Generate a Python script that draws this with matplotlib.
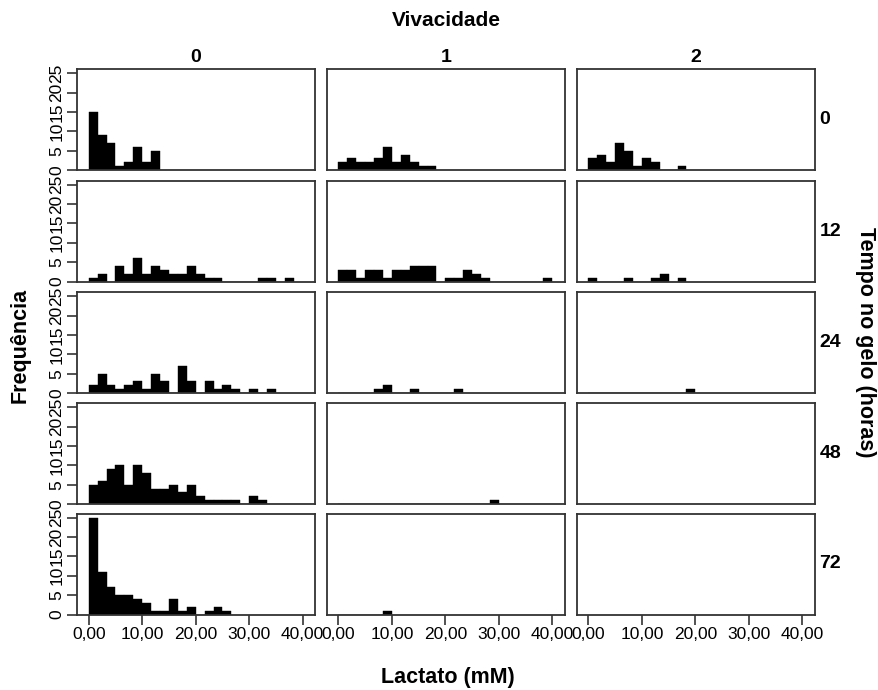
import numpy as np
import matplotlib
matplotlib.use("Agg")
import matplotlib.pyplot as plt

plt.rcParams['font.family'] = ['Liberation Sans', 'DejaVu Sans']

# Lactate histogram counts (bins of 40/24 mM starting at 0), one list per panel
vivacidade = ['0', '1', '2']
tempo = ['0', '12', '24', '48', '72']

t0_v0 = [15, 9, 7, 1, 2, 6, 2, 5]
t0_v1 = [2, 3, 2, 2, 3, 6, 2, 4, 2, 1, 1]
t0_v2 = [3, 4, 2, 7, 5, 1, 3, 2, 0, 0, 1]

t12_v0 = [1, 2, 0, 4, 2, 6, 2, 4, 3, 2, 2, 4, 2, 1, 1, 0, 0, 0, 0, 1, 1, 0, 1]
t12_v1 = [3, 3, 1, 3, 3, 1, 3, 3, 4, 4, 4, 0, 1, 1, 3, 2, 1, 0, 0, 0, 0, 0, 0, 1]
t12_v2 = [1, 0, 0, 0, 1, 0, 0, 1, 2, 0, 1]

t24_v0 = [2, 5, 2, 1, 2, 3, 1, 5, 3, 0, 7, 3, 0, 3, 1, 2, 1, 0, 1, 0, 1]
t24_v1 = [0, 0, 0, 0, 1, 2, 0, 0, 1, 0, 0, 0, 0, 1]
t24_v2 = [0, 0, 0, 0, 0, 0, 0, 0, 0, 0, 0, 1]

t48_v0 = [5, 6, 9, 10, 5, 10, 8, 4, 4, 5, 3, 5, 2, 1, 1, 1, 1, 0, 2, 1]
t48_v1 = [0, 0, 0, 0, 0, 0, 0, 0, 0, 0, 0, 0, 0, 0, 0, 0, 0, 1]
t48_v2 = []

t72_v0 = [25, 11, 7, 5, 5, 4, 3, 1, 1, 4, 1, 2, 0, 1, 2, 1]
t72_v1 = [0, 0, 0, 0, 0, 1]
t72_v2 = []

grid = [
    [t0_v0, t0_v1, t0_v2],
    [t12_v0, t12_v1, t12_v2],
    [t24_v0, t24_v1, t24_v2],
    [t48_v0, t48_v1, t48_v2],
    [t72_v0, t72_v1, t72_v2],
]

bin_w = 40 / 24
x_ticks = [0, 10, 20, 30, 40]
x_ticklabels = ['0,00', '10,00', '20,00', '30,00', '40,00']
y_ticks = [0, 5, 10, 15, 20, 25]

W, H = 879, 690
fig = plt.figure(figsize=(W / 100, H / 100), dpi=100)

col_left = [77, 326.7, 576.7]
panel_w = 238
row_top = [69, 180.5, 292, 403, 513.5]
panel_h = 101
edge_col = '#333333'

for r, row in enumerate(grid):
    for c, counts in enumerate(row):
        ax = fig.add_axes([col_left[c] / W, 1 - (row_top[r] + panel_h) / H,
                           panel_w / W, panel_h / H])
        if counts:
            edges = np.arange(len(counts)) * bin_w
            ax.bar(edges, counts, width=bin_w, align='edge',
                   color='black', edgecolor='black', linewidth=0.3)
        ax.set_xlim(-2.19, 42.3)
        ax.set_ylim(0, 26.1)
        for s in ax.spines.values():
            s.set_color(edge_col)
            s.set_linewidth(1.3)
        ax.tick_params(direction='out', length=7, width=1.2, color=edge_col,
                       labelsize=12.5, pad=2)
        ax.set_xticks(x_ticks)
        ax.set_yticks(y_ticks)
        if r == len(grid) - 1:
            ax.set_xticklabels(x_ticklabels)
        else:
            ax.tick_params(axis='x', bottom=False, labelbottom=False)
        if c == 0:
            ax.set_yticklabels([str(v) for v in y_ticks], rotation=90,
                               va='center')
        else:
            ax.tick_params(axis='y', left=False, labelleft=False)
        if r == 0:
            ax.text(0.5, 1.03, vivacidade[c], transform=ax.transAxes,
                    ha='center', va='bottom', fontsize=14, fontweight='bold')
        if c == 2:
            ax.text(1.02, 0.5, tempo[r], transform=ax.transAxes,
                    ha='left', va='center', fontsize=14, fontweight='bold')

fig.text(446 / W, 1 - 20 / H, 'Vivacidade', ha='center', va='center',
         fontsize=15, fontweight='bold')
fig.text(448 / W, 1 - 677 / H, 'Lactato (mM)', ha='center', va='center',
         fontsize=15.5, fontweight='bold')
fig.text(20 / W, 1 - 345 / H, 'Frequência', ha='center', va='center',
         rotation=90, fontsize=15.5, fontweight='bold')
fig.text(866 / W, 1 - 342 / H, 'Tempo no gelo (horas)', ha='center',
         va='center', rotation=270, fontsize=15.5, fontweight='bold')

fig.savefig('out.png', dpi=100)
